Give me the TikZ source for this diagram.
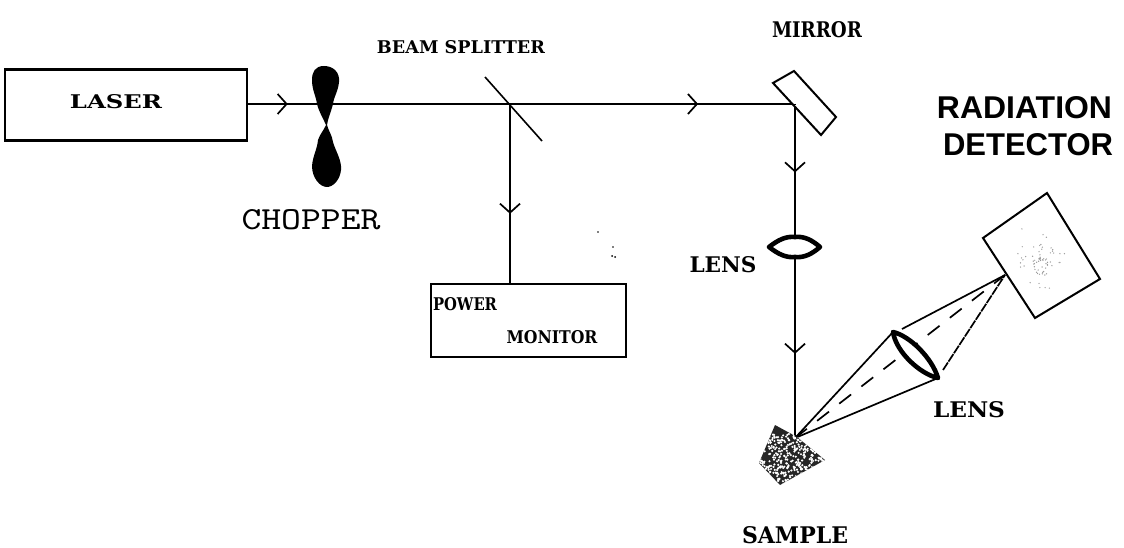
\documentclass[tikz,border=0pt]{standalone}
\usepackage{fontspec}
\usepackage{graphicx}
\setmainfont{DejaVu Serif}
\newfontfamily\labelsans{Liberation Sans}
\usetikzlibrary{arrows.meta,decorations.markings,calc}
\newcommand{\fitbold}[3]{\resizebox{#1pt}{#2pt}{\bfseries #3}}
\newcommand{\fitsans}[3]{\resizebox{#1pt}{#2pt}{\labelsans\bfseries #3}}
\newcommand{\fitmono}[3]{\resizebox{#1pt}{#2pt}{\ttfamily #3}}
\tikzset{
  x=1pt,y=-1pt,
  line/.style={line width=2.2pt,black},
  thin line/.style={line width=1.6pt,black},
  boxnode/.style={draw=black,line width=2.2pt,fill=none,inner sep=0pt,outer sep=0pt},
  lbl/.style={inner sep=0pt,outer sep=0pt,text=black},
  barb/.style={postaction={decorate,decoration={markings,mark=at position #1 with {\arrow[line width=1.7pt]{Straight Barb[length=9pt,width=20pt]}}}}},
  lensline/.style={line width=4.6pt,black,line join=round},
  cone/.style={line width=1.7pt,black}
}
\begin{document}
\begin{tikzpicture}
\useasboundingbox (0,0) rectangle (1124,548);
% anchors
\coordinate (split) at (510,104);
\coordinate (mirrorhit) at (795,104);
\coordinate (samplehit) at (795,438);
\coordinate (lensa) at (893,332);
\coordinate (lensb) at (938,378);
\coordinate (conea) at (902,329);
\coordinate (coneb) at (943,370);
\coordinate (detfocus) at (1005,275);
% boxes
\node[boxnode,minimum width=242pt,minimum height=71pt] (laser) at (126,105) {};
\node[boxnode,minimum width=195pt,minimum height=73pt] (power) at (528.5,320.5) {};
\node[lbl] (lasertext) at (116,102) {\fitbold{92}{14}{LASER}};
\node[lbl] (powertext) at (465,304) {\fitbold{64}{13}{POWER}};
\node[lbl] (monitortext) at (552,337) {\fitbold{91}{13}{MONITOR}};
% beams
\draw[line,barb=0.155] (laser.east |- split) -- (split);
\draw[line,barb=0.66] (split) -- (mirrorhit);
\draw[line,barb=0.61] (split) -- (power.north -| split);
\draw[line,barb=0.205,barb=0.748] (mirrorhit) -- (samplehit);
% chopper
\fill[black] (326,125)
  .. controls (323,118) and (319,112) .. (317,104)
  .. controls (316,96) and (312,90) .. (312,80)
  .. controls (312,72) and (315,66) .. (324,66)
  .. controls (333,66) and (340,72) .. (339,82)
  .. controls (338,92) and (334,96) .. (333,104)
  .. controls (331,112) and (328,118) .. (327,125)
  .. controls (329,132) and (332,135) .. (333,142)
  .. controls (335,150) and (342,160) .. (341,170)
  .. controls (340,180) and (333,187) .. (327,187)
  .. controls (320,187) and (312,178) .. (312,166)
  .. controls (313,155) and (317,150) .. (318,140)
  .. controls (320,134) and (324,130) .. (326,125) -- cycle;
% beam splitter
\draw[thin line] (485,77) -- (542,141);
% mirror
\path[draw=black,line width=2pt,fill=white] (773,83) -- (794,71) -- (836,117) -- (821,135) -- cycle;
\draw[line] (mirrorhit) -- ++(0,1);
% vertical lens
\draw[lensline,fill=white] (769,247) .. controls (778,240) and (786,236) .. (795,237)
  .. controls (804,236) and (812,240) .. (820,247)
  .. controls (812,254) and (804,258) .. (795,257)
  .. controls (786,258) and (778,254) .. (769,247) -- cycle;
% detector
\draw[line width=2pt,black,fill=white] (983,238) -- (1047,193) -- (1100,279) -- (1035,318) -- cycle;
\begin{scope}
\clip (1010,225) rectangle (1075,295);
\pgfmathsetseed{7}
\foreach \i in {1,...,70}{
  \pgfmathsetmacro{\px}{1040+rand*rand*30}
  \pgfmathsetmacro{\py}{262+rand*rand*36}
  \fill[black!40] (\px,\py) circle (0.7pt);
}
\end{scope}
% cone
\draw[cone] (samplehit) -- (lensa);
\draw[cone] (samplehit) -- (lensb);
\draw[cone] (conea) -- (detfocus);
\draw[cone,dash pattern=on 9pt off 1pt] (coneb) -- (detfocus);
\draw[cone,dash pattern=on 15pt off 13pt] (samplehit) -- (detfocus);
% tilted lens
\draw[lensline,fill=white] (lensa) .. controls (910,336) and (932,358) .. (lensb)
  .. controls (920,374) and (896,352) .. (lensa) -- cycle;
% sample
\begin{scope}
\clip (775,425) -- (797,437) -- (825,460) -- (780,485) -- (759,463) -- cycle;
\fill[black!85] (750,420) rectangle (830,490);
\pgfmathsetseed{11}
\foreach \i in {1,...,420}{
  \pgfmathsetmacro{\px}{792+rand*32}
  \pgfmathsetmacro{\py}{460+rand*26}
  \fill[white] (\px,\py) circle (1.2pt);
}
\end{scope}
% labels
\node[lbl] (beamtext) at (461,47) {\fitbold{168}{13}{BEAM SPLITTER}};
\node[lbl] (mirrortext) at (817,30) {\fitbold{90}{16}{MIRROR}};
\node[lbl] (choppertext) at (311,220) {\fitmono{139}{20}{CHOPPER}};
\node[lbl] (radtext) at (1024.5,108) {\fitsans{175}{22}{RADIATION}};
\node[lbl] (dettext) at (1028,145) {\fitsans{170}{22}{DETECTOR}};
\node[lbl] (lensatext) at (723,265) {\fitbold{67}{16}{LENS}};
\node[lbl] (lensbtext) at (969,410) {\fitbold{72}{16}{LENS}};
\node[lbl] (sampletext) at (795,535) {\fitbold{106}{17}{SAMPLE}};
% specks
\fill[black] (598,232) circle (0.9pt) (613,247) circle (0.9pt) (615,257) circle (1pt) (612,256) circle (1pt);
\end{tikzpicture}
\end{document}
